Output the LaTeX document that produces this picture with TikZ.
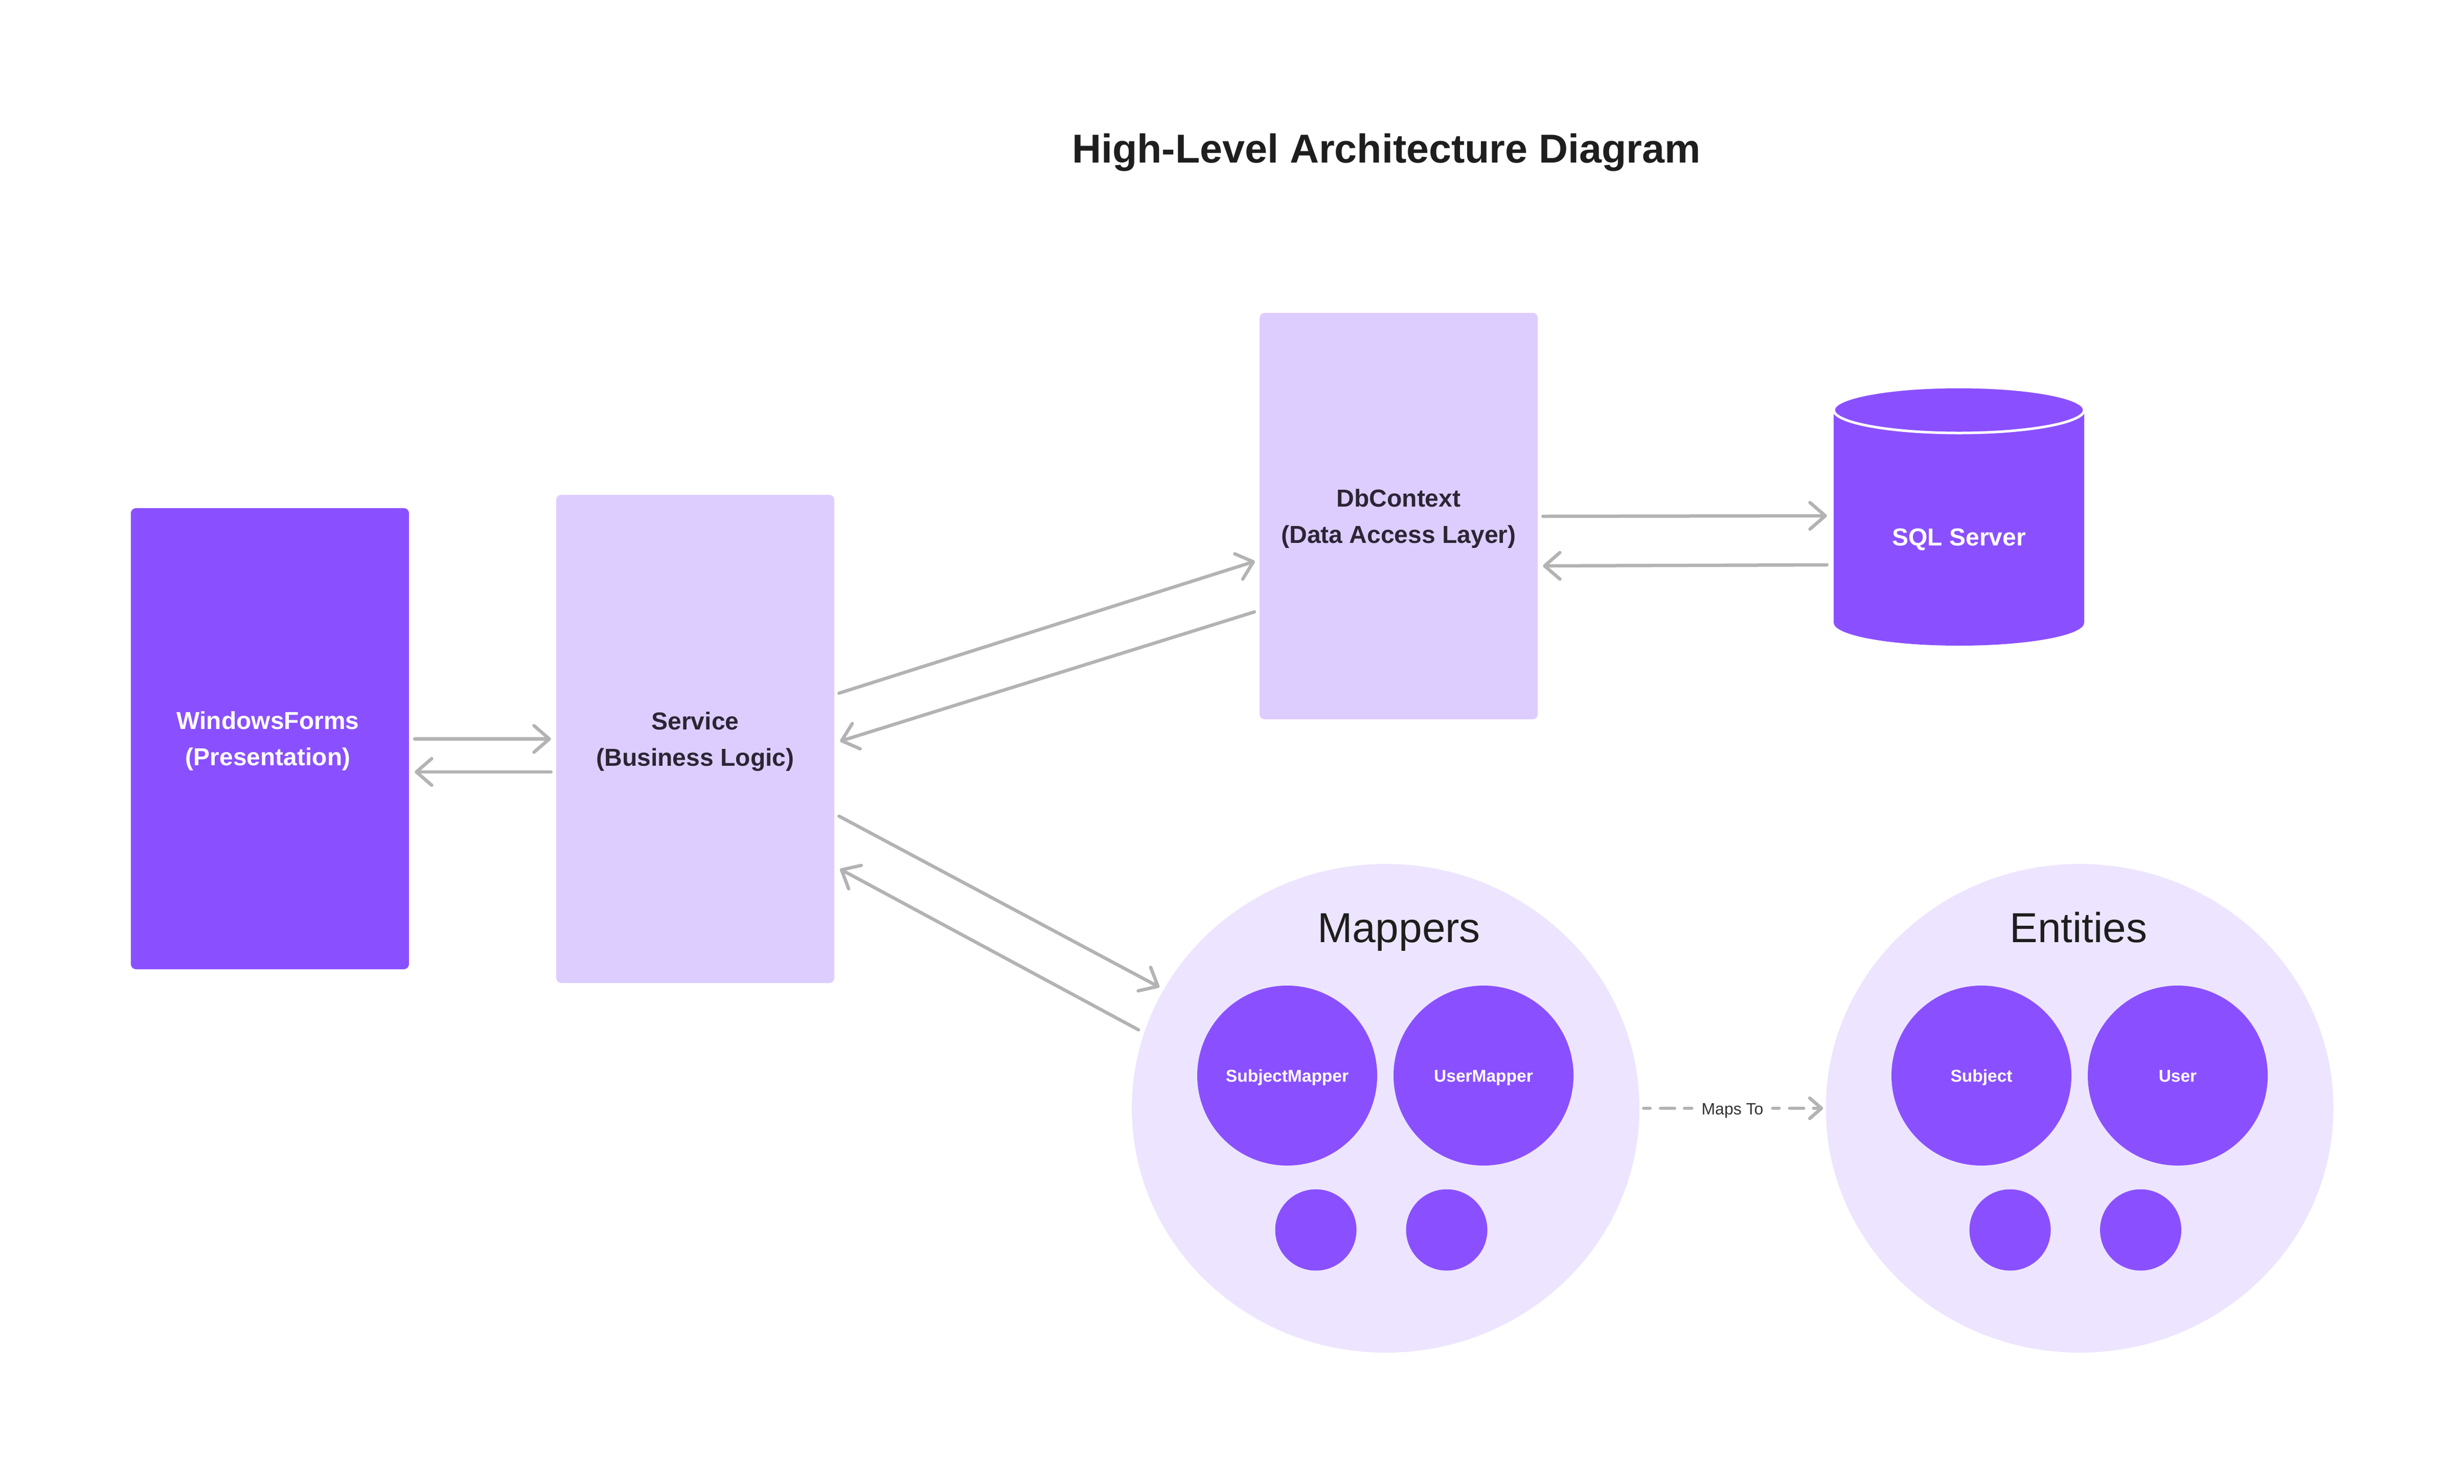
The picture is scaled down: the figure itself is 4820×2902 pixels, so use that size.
\documentclass[tikz,border=0pt]{standalone}
\usepackage{fontspec}
\setmainfont{Liberation Sans}
\usetikzlibrary{arrows.meta,shapes.geometric,calc}
\definecolor{vio}{HTML}{8A50FF}
\definecolor{lav}{HTML}{DDCDFF}
\definecolor{pale}{HTML}{EDE5FF}
\definecolor{agray}{HTML}{B3B3B3}
\definecolor{ink}{HTML}{2B2535}
\definecolor{titleink}{HTML}{1E1E1E}
\definecolor{mtink}{HTML}{333333}
\begin{document}
\begin{tikzpicture}[x=1pt,y=-1pt,
  box/.style={rectangle, rounded corners=10pt, inner sep=0pt, draw=none},
  darkbox/.style={box, fill=vio},
  lightbox/.style={box, fill=lav},
  boxlabel/.style={align=center, inner sep=0pt, font=\fontsize{48pt}{71pt}\selectfont\bfseries},
  bigcirc/.style={ellipse, fill=pale, inner sep=0pt, minimum width=993pt, minimum height=956pt},
  groupname/.style={anchor=base, inner sep=0pt, text=titleink, font=\fontsize{82pt}{96pt}\selectfont},
  itemcirc/.style={circle, fill=vio, inner sep=0pt, minimum size=352pt, text=white,
     font=\fontsize{33.5pt}{40pt}\selectfont\bfseries, text height=24pt, text depth=0pt},
  dotcirc/.style={circle, fill=vio, inner sep=0pt, minimum size=159pt},
  conn/.style={draw=agray, line width=6.5pt, line cap=round,
     -{Straight Barb[length=30pt,width=52pt,round]}},
  dashconn/.style={draw=agray, line width=6.5pt, line cap=round,
     dash pattern=on 12.5pt off 20.5pt on 27.5pt off 19.5pt on 60pt off 20pt},
  dasharrow/.style={dashconn, -{Straight Barb[length=23pt,width=40pt,round]}}
]
\fill[white] (0,0) rectangle (4820,2902);
\useasboundingbox (0,0) rectangle (4820,2902);

% title
\node[anchor=base, inner sep=0pt, text=titleink, font=\fontsize{79pt}{96pt}\selectfont\bfseries]
  (title) at (2712,318) {High-Level Architecture Diagram};

% layers
\node[darkbox, minimum width=544pt, minimum height=902pt] (wf) at (528,1445) {};
\node[boxlabel, text=white] (wfl) at ($(wf.center)+(-4,5)$) {WindowsForms\\(Presentation)};

\node[lightbox, minimum width=544pt, minimum height=955pt] (svc) at (1360,1445.5) {};
\node[boxlabel, text=ink] (svcl) at ($(svc.center)+(0,5)$) {Service\\(Business Logic)};

\node[lightbox, minimum width=544pt, minimum height=795pt] (db) at (2736,1009.5) {};
\node[boxlabel, text=ink] (dbl) at ($(db.center)+(0,5)$) {DbContext\\(Data Access Layer)};

% SQL Server cylinder
\node[inner sep=0pt, minimum width=490pt, minimum height=505pt] (sql) at (3832,1010) {};
\fill[vio] (3587,802) -- (3587,1218)
  arc[start angle=180, end angle=360, x radius=245pt, y radius=45pt] -- (4077,802) -- cycle;
\filldraw[fill=vio, draw=white, line width=5pt] (3832,802) ellipse [x radius=245pt, y radius=45pt];
\node[anchor=base, inner sep=0pt, text=white, font=\fontsize{48pt}{60pt}\selectfont\bfseries]
  (sqll) at (3832,1067) {SQL Server};

% Mappers group
\node[bigcirc] (mp) at (2710.5,2168) {};
\node[groupname] (mpl) at (2736.5,1843) {Mappers};
\node[itemcirc] (sm) at (2518,2104) {SubjectMapper};
\node[itemcirc] (um) at (2902,2104) {UserMapper};
\node[dotcirc] (md1) at (2574,2406) {};
\node[dotcirc] (md2) at (2830,2406) {};

% Entities group
\node[bigcirc] (en) at (4068,2168) {};
\node[groupname] (enl) at (4066,1843) {Entities};
\node[itemcirc] (subj) at (3876,2104) {Subject};
\node[itemcirc] (usr) at (4260,2104) {User};
\node[dotcirc] (ed1) at (3932,2406) {};
\node[dotcirc] (ed2) at (4187.5,2406) {};

% connectors
\draw[conn] ($(wf.east)+(11,0.5)$) -- ($(svc.west)+(-10,0)$);
\draw[conn] ($(svc.west)+(-10,64.5)$) -- ($(wf.east)+(11,65)$);

\draw[conn] ($(svc.east)+(9,-89.5)$) -- ($(db.west)+(-9,88.5)$);
\draw[conn] ($(db.west)+(-10,187.5)$) -- ($(svc.east)+(11,4.5)$);

\draw[conn] ($(svc.east)+(9,151)$) -- ($(mp.center)+(-442.5,-237)$);
\draw[conn] ($(mp.center)+(-483.5,-153.5)$) -- ($(svc.east)+(11,254.5)$);

\draw[conn] ($(db.east)+(10,0.5)$) -- ($(sql.west)+(-13,-1)$);
\draw[conn] ($(sql.west)+(-13,95)$) -- ($(db.east)+(10,97.5)$);

% Maps To
\node[anchor=base, inner sep=0pt, text=mtink, font=\fontsize{32pt}{40pt}\selectfont]
  (mt) at (3389,2180) {Maps To};
\draw[dashconn] ($(mp.east)+(8,0)$) -- ($(mt.west |- mp.east)+(-19,0)$);
\draw[dasharrow] ($(mt.east |- en.west)+(18,0)$) -- ($(en.west)+(-5,0)$);
\end{tikzpicture}
\end{document}
